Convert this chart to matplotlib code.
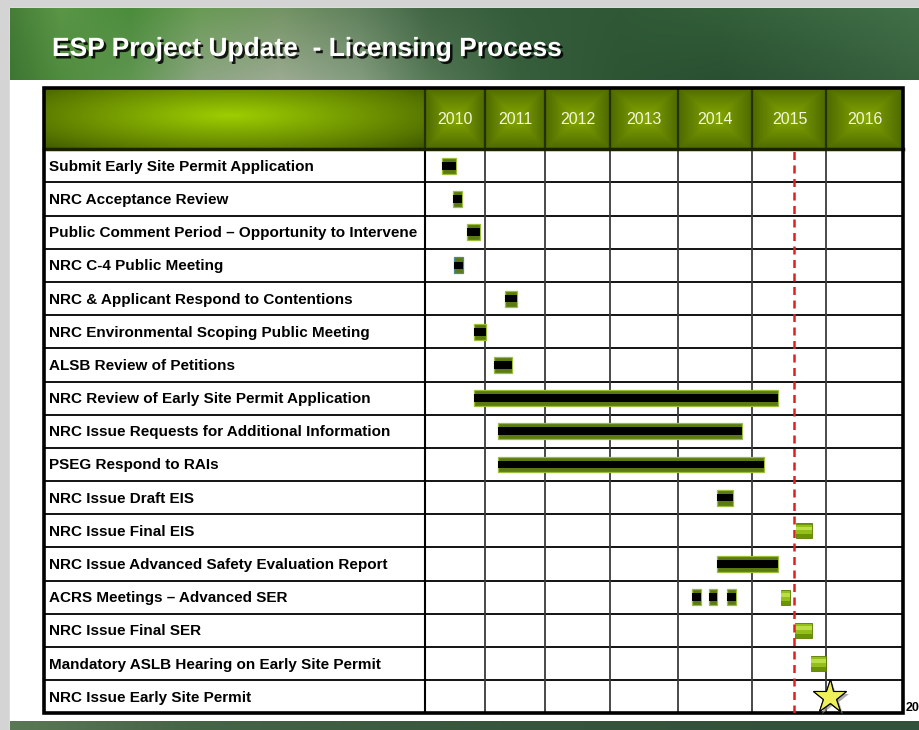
import numpy as np
import matplotlib.pyplot as plt
from matplotlib import patheffects

# ---- data -------------------------------------------------------------
title = "ESP Project Update  - Licensing Process"
years = [2010, 2011, 2012, 2013, 2014, 2015, 2016]

tasks = [
    "Submit Early Site Permit Application",
    "NRC Acceptance Review",
    "Public Comment Period \u2013 Opportunity to Intervene",
    "NRC C-4 Public Meeting",
    "NRC & Applicant Respond to Contentions",
    "NRC Environmental Scoping Public Meeting",
    "ALSB Review of Petitions",
    "NRC Review of Early Site Permit Application",
    "NRC Issue Requests for Additional Information",
    "PSEG Respond to RAIs",
    "NRC Issue Draft EIS",
    "NRC Issue Final EIS",
    "NRC Issue Advanced Safety Evaluation Report",
    "ACRS Meetings \u2013 Advanced SER",
    "NRC Issue Final SER",
    "Mandatory ASLB Hearing on Early Site Permit",
    "NRC Issue Early Site Permit",
]

# completed / in-progress activities (olive bar with black core)
dark_row = [0, 1, 2, 3, 4, 5, 6, 7, 8, 9, 10, 12, 13, 13, 13]
dark_start = [2010.28, 2010.47, 2010.70, 2010.49, 2011.33, 2010.82, 2011.15,
              2010.82, 2011.21, 2011.21, 2014.52, 2014.52, 2014.19, 2014.41, 2014.66]
dark_end = [2010.51, 2010.62, 2010.92, 2010.63, 2011.53, 2011.02, 2011.44,
            2015.35, 2014.86, 2015.15, 2014.74, 2015.35, 2014.30, 2014.52, 2014.78]

# planned activities (bright green bars)
bright_row = [11, 13, 14, 15]
bright_start = [2015.59, 2015.39, 2015.57, 2015.79]
bright_end = [2015.81, 2015.51, 2015.81, 2016.00]

milestone_row = 16
milestone_x = 2016.04
status_date = 2015.56

# ---- layout (pixels) ---------------------------------------------------
W, H = 920, 730
tbl_left, tbl_right = 44, 903
lab_right = 425
col_px = [425, 485, 545.5, 610, 678.3, 752.5, 826.5, 903]
head_top, body_top, body_bot = 88, 149.3, 713.3
row_h = (body_bot - body_top) / len(tasks)

sans = ['Liberation Sans', 'DejaVu Sans']

fig = plt.figure(figsize=(W / 100, H / 100), dpi=100)
fig.patch.set_facecolor('#d4d4d4')

bg = fig.add_axes([0, 0, 1, 1])
bg.axis('off')

# white slide
bg.add_patch(plt.Rectangle((10, 8), W - 10, H - 8, color='white', zorder=0))

# banner (forest-ish gradient)
bx = np.array([10, 60, 130, 200, 280, 360, 430, 520, 620, 720, 820, 920])
top_c = np.array([[70, 125, 55], [90, 150, 70], [75, 140, 60], [105, 155, 85],
                  [115, 148, 100], [95, 128, 92], [65, 102, 68], [52, 92, 58],
                  [48, 88, 54], [50, 95, 56], [58, 104, 64], [66, 112, 72]])
bot_c = np.array([[60, 118, 50], [80, 140, 62], [95, 150, 80], [140, 165, 130],
                  [155, 170, 145], [130, 155, 125], [85, 120, 85], [55, 95, 60],
                  [45, 85, 52], [42, 80, 50], [48, 88, 56], [56, 98, 62]])
xs = np.arange(10, W)
top_row = np.stack([np.interp(xs, bx, top_c[:, k]) for k in range(3)], axis=-1)
bot_row = np.stack([np.interp(xs, bx, bot_c[:, k]) for k in range(3)], axis=-1)
t = np.linspace(0, 1, 72)[:, None, None]
banner = (top_row[None] * (1 - t) + bot_row[None] * t) / 255
bg.imshow(banner, extent=(10, W, 80, 8), aspect='auto', zorder=1)

# bottom strip
strip = np.stack([np.interp(xs, [10, 200, 500, 920], c) for c in
                  ([90, 70, 55, 50], [120, 100, 85, 80], [85, 70, 60, 58])], axis=-1)
bg.imshow(np.repeat(strip[None] / 255, 4, axis=0), extent=(10, W, 730, 721),
          aspect='auto', zorder=1)

bg.text(52, 49, title, color='white', fontsize=19, fontweight='bold',
        family=sans, va='center', ha='left', zorder=5,
        path_effects=[patheffects.withSimplePatchShadow(offset=(1.8, -1.8),
                                                        shadow_rgbFace='black',
                                                        alpha=0.85)])

# header: label cell radial gradient
hx = np.linspace(tbl_left, lab_right, 300)
hy = np.linspace(head_top, body_top, 60)
HX, HY = np.meshgrid(hx, hy)
r = np.sqrt(((HX - 230) / 260) ** 2 + ((HY - 116) / 48) ** 2)
f = np.clip(1 - r, 0, 1) ** 0.9
dark = np.array([62, 88, 0]) / 255
light = np.array([158, 206, 0]) / 255
bg.imshow(dark + f[..., None] * (light - dark),
          extent=(tbl_left, lab_right, body_top, head_top), aspect='auto', zorder=2)

# header: year cells with bevel gradient
u = np.linspace(-1, 1, 60)
U, V = np.meshgrid(u, u)
pyr = 1 - np.maximum(np.abs(U), np.abs(V))
c_edge = np.array([78, 106, 0]) / 255
c_mid = np.array([136, 170, 0]) / 255
cell = c_edge + pyr[..., None] * (c_mid - c_edge)
for k, yr in enumerate(years):
    bg.imshow(cell, extent=(col_px[k], col_px[k + 1], body_top, head_top),
              aspect='auto', zorder=2)
    bg.text((col_px[k] + col_px[k + 1]) / 2, (head_top + body_top) / 2 + 1, str(yr),
            color='#f4f8dc', fontsize=11.5, family=sans, ha='center', va='center',
            zorder=5)
    bg.plot([col_px[k], col_px[k]], [head_top, body_top], color='#243000',
            lw=1.6, zorder=3)

# body grid
for i in range(1, len(tasks)):
    yy = body_top + i * row_h
    bg.plot([tbl_left, tbl_right], [yy, yy], color='black', lw=1.3, zorder=3)
for xx in col_px[1:-1]:
    bg.plot([xx, xx], [body_top, body_bot], color='#3a3a3a', lw=1.3, zorder=3)
bg.plot([lab_right, lab_right], [body_top, body_bot], color='black', lw=1.5, zorder=3)
bg.plot([tbl_left, tbl_right], [body_top, body_top], color='#1a2200', lw=2.5, zorder=3)
bg.add_patch(plt.Rectangle((tbl_left, head_top), tbl_right - tbl_left,
                           body_bot - head_top, fill=False, ec='black', lw=2.6,
                           zorder=4))

for i, name in enumerate(tasks):
    bg.text(49, body_top + (i + 0.5) * row_h + 1, name, fontsize=11, fontweight='bold',
            family=sans, ha='left', va='center', color='black', zorder=5)

bg.text(906, 708, "20", fontsize=9, fontweight='bold', family=sans,
        ha='left', va='center', zorder=5)

bg.set_xlim(0, W)
bg.set_ylim(H, 0)

# ---- gantt axes ----------------------------------------------------------
edges_year = np.arange(years[0], years[-1] + 2)


def fwd(x):
    return np.interp(x, edges_year, col_px)


def inv(x):
    return np.interp(x, col_px, edges_year)


gx = fig.add_axes([col_px[0] / W, (H - body_bot) / H,
                   (col_px[-1] - col_px[0]) / W, (body_bot - body_top) / H])
gx.set_xscale('function', functions=(fwd, inv))
gx.set_xlim(edges_year[0], edges_year[-1])
gx.set_ylim(len(tasks), 0)
gx.patch.set_alpha(0)
gx.axis('off')

yd = np.array(dark_row) + 0.5
wd = np.array(dark_end) - np.array(dark_start)
edge = ['#3f8fa0' if rr == 3 else '#9cbf3a' for rr in dark_row]
gx.barh(yd, wd, left=dark_start, height=0.48, color='#5b7a12', edgecolor=edge,
        linewidth=0.9, zorder=3)
gx.barh(yd, wd, left=dark_start, height=0.23, color='black', zorder=4)

yb = np.array(bright_row) + 0.5
wb = np.array(bright_end) - np.array(bright_start)
gx.barh(yb, wb, left=bright_start, height=0.46, color='#6a9404',
        edgecolor='#5a7e00', linewidth=0.6, zorder=3)
gx.barh(yb - 0.04, wb, left=bright_start, height=0.30, color='#93bf18', zorder=4)
gx.barh(yb - 0.07, wb, left=bright_start, height=0.12, color='#b9de48', zorder=4)

gx.axvline(status_date, color='#e0201c', lw=1.8, linestyle=(0, (3.2, 2.2)), zorder=5)

gx.plot([milestone_x], [milestone_row + 0.5], marker='*', ms=25, mfc='#f0f05a',
        mec='black', mew=0.8, clip_on=False, zorder=6,
        path_effects=[patheffects.withSimplePatchShadow(offset=(2, -2),
                                                        shadow_rgbFace='#888888',
                                                        alpha=0.7),
                      patheffects.Normal()])

fig.savefig('out.png', dpi=100, facecolor=fig.get_facecolor())
